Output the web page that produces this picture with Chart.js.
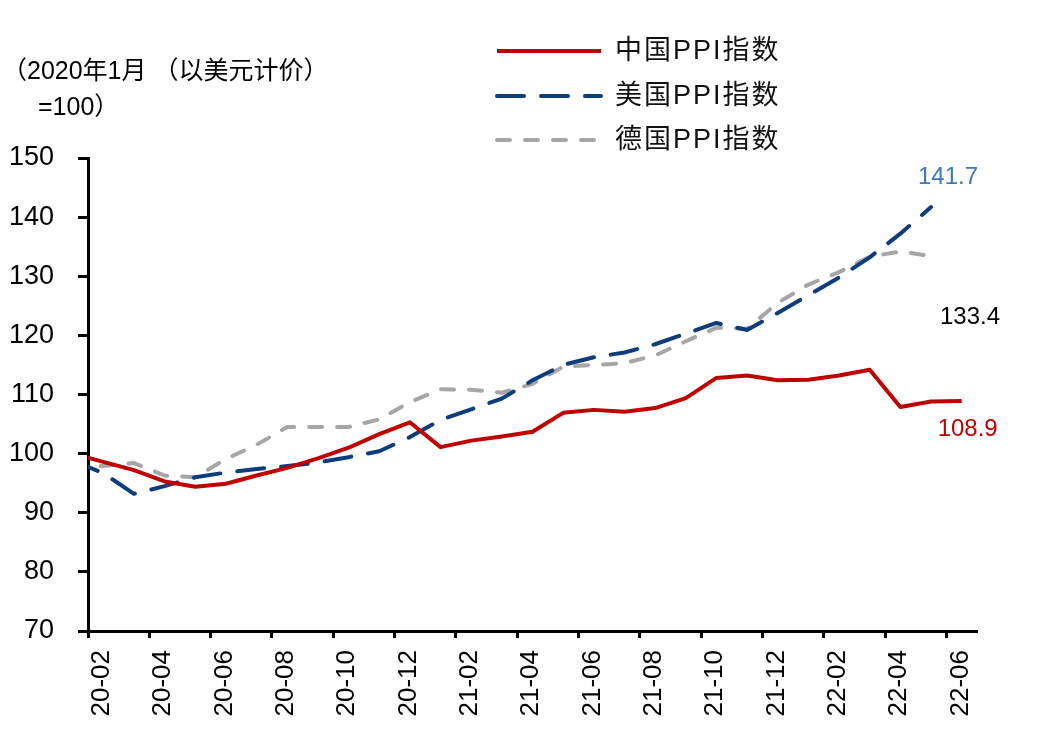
<!DOCTYPE html>
<html>
<head>
<meta charset="utf-8">
<script src="https://cdn.jsdelivr.net/npm/chart.js@4"></script>
<style>
  html, body { margin: 0; padding: 0; background: #fff; }
  #wrap { width: 1051px; height: 740px; position: relative; }
</style>
</head>
<body>
<div id="wrap"><canvas id="ppiChart"></canvas></div>
<script>
// months 20-01 .. 22-06 (20-01 sits just left of the axis and is clipped)
const months = [
  '20-01','20-02','20-03','20-04','20-05','20-06','20-07','20-08','20-09','20-10','20-11','20-12',
  '21-01','21-02','21-03','21-04','21-05','21-06','21-07','21-08','21-09','21-10','21-11','21-12',
  '22-01','22-02','22-03','22-04','22-05','22-06'
];

const chinaPPI = [
  100.0, 98.6, 97.2, 95.3, 94.4, 94.9, 96.3, 97.6, 99.2, 101.0, 103.3, 105.3,
  101.1, 102.2, 102.9, 103.7, 106.9, 107.4, 107.1, 107.7, 109.4, 112.8, 113.2, 112.4,
  112.5, 113.2, 114.2, 107.9, 108.8, 108.9
];

const usPPI = [
  98.8, 96.7, 93.2, 94.5, 96.0, 96.8, 97.4, 97.9, 98.5, 99.4, 100.4, 102.8,
  105.7, 107.5, 109.3, 112.4, 115.0, 116.3, 117.1, 118.5, 120.3, 122.1, 120.9, 123.8,
  126.8, 129.8, 133.2, 137.2, 141.7
];

const dePPI = [
  98.0, 97.9, 98.4, 96.3, 96.0, 99.1, 101.5, 104.5, 104.5, 104.5, 105.8, 108.7,
  110.9, 110.8, 110.3, 111.8, 114.7, 115.0, 115.3, 116.6, 119.0, 121.3, 121.1, 125.5,
  128.6, 130.7, 133.3, 134.2, 133.4
];

const seriesNames = ['中国PPI指数', '美国PPI指数', '德国PPI指数'];
const endLabels = ['108.9', '141.7', '133.4'];
const yMin = 70, yMax = 150, yStep = 10;

const FONT = "'Liberation Sans', Arial, 'Noto Sans CJK SC', sans-serif";
Chart.defaults.font.family = FONT;
Chart.defaults.color = '#000';

function toPoints(arr) {
  return arr.map(function (v, i) { return { x: i, y: v }; });
}

// legend, unit note and end-of-line values
const extrasPlugin = {
  id: 'extras',
  afterDraw: function (chart) {
    const ctx = chart.ctx;
    ctx.save();

    // unit note top-left
    ctx.fillStyle = '#000';
    ctx.textBaseline = 'middle';
    ctx.textAlign = 'left';
    ctx.font = "25px " + FONT;
    ctx.fillText('（2020年1月 （以美元计价）', 2, 72);
    ctx.fillText('=100）', 38, 108);

    // legend
    const rows = [51, 96, 140];
    chart.data.datasets.forEach(function (ds, i) {
      ctx.save();
      ctx.strokeStyle = ds.borderColor;
      ctx.lineWidth = ds.borderWidth;
      ctx.lineCap = ds.borderCapStyle || 'butt';
      ctx.setLineDash(ds.borderDash || []);
      ctx.beginPath();
      ctx.moveTo(497, rows[i]);
      ctx.lineTo(601, rows[i]);
      ctx.stroke();
      ctx.restore();

      ctx.fillStyle = '#111';
      ctx.font = "27px " + FONT;
      if ('letterSpacing' in ctx) ctx.letterSpacing = '2px';
      ctx.fillText(ds.label, 615, rows[i] + 1);
      if ('letterSpacing' in ctx) ctx.letterSpacing = '0px';
    });

    // last values, placed relative to each series' final point
    const offsets = [[6, 28], [17, -30], [39, 61]];
    const colors = ['#C00000', '#3F78B8', '#000'];
    ctx.font = "24px " + FONT;
    ctx.textAlign = 'center';
    chart.data.datasets.forEach(function (ds, i) {
      const meta = chart.getDatasetMeta(i);
      const pt = meta.data[meta.data.length - 1];
      ctx.fillStyle = colors[i];
      ctx.fillText(endLabels[i], pt.x + offsets[i][0], pt.y + offsets[i][1]);
    });

    ctx.restore();
  }
};

new Chart('ppiChart', {
  type: 'line',
  data: {
    datasets: [
      {
        label: seriesNames[0],
        data: toPoints(chinaPPI),
        borderColor: '#C00000',
        borderWidth: 4,
        borderCapStyle: 'butt',
        borderJoinStyle: 'round',
        pointRadius: 0,
        tension: 0
      },
      {
        label: seriesNames[1],
        data: toPoints(usPPI),
        borderColor: '#0E3C7C',
        borderWidth: 4,
        borderDash: [27, 17],
        borderCapStyle: 'round',
        borderJoinStyle: 'round',
        pointRadius: 0,
        tension: 0
      },
      {
        label: seriesNames[2],
        data: toPoints(dePPI),
        borderColor: '#A6A6A6',
        borderWidth: 4,
        borderDash: [13, 15],
        borderCapStyle: 'round',
        borderJoinStyle: 'round',
        pointRadius: 0,
        tension: 0
      }
    ]
  },
  options: {
    responsive: true,
    maintainAspectRatio: false,
    animation: false,
    layout: { padding: { top: 158, right: 74, left: 0, bottom: 0 } },
    plugins: {
      legend: { display: false },
      tooltip: { enabled: false }
    },
    scales: {
      x: {
        type: 'linear',
        min: 0.5,
        max: months.length - 0.5,
        afterBuildTicks: function (scale) {
          const t = [];
          for (let v = 0.5; v < months.length - 1; v += 2) t.push({ value: v });
          scale.ticks = t;
        },
        afterFit: function (scale) { scale.height = 109; },
        grid: { drawOnChartArea: false, drawTicks: true, tickLength: 7, tickWidth: 3, tickColor: '#000' },
        border: { display: true, color: '#000', width: 3 },
        ticks: {
          autoSkip: false,
          maxRotation: 90,
          minRotation: 90,
          labelOffset: 14,
          padding: 12,
          color: '#000',
          font: { size: 26 },
          callback: function (v) { return months[Math.round(v + 0.5)]; }
        }
      },
      y: {
        min: yMin,
        max: yMax,
        afterFit: function (scale) { scale.width = 88; },
        grid: { drawOnChartArea: false, drawTicks: true, tickLength: 10, tickWidth: 3, tickColor: '#000' },
        border: { display: true, color: '#000', width: 3 },
        ticks: { stepSize: yStep, padding: 24, color: '#000', font: { size: 27 } }
      }
    }
  },
  plugins: [extrasPlugin]
});
</script>
</body>
</html>
